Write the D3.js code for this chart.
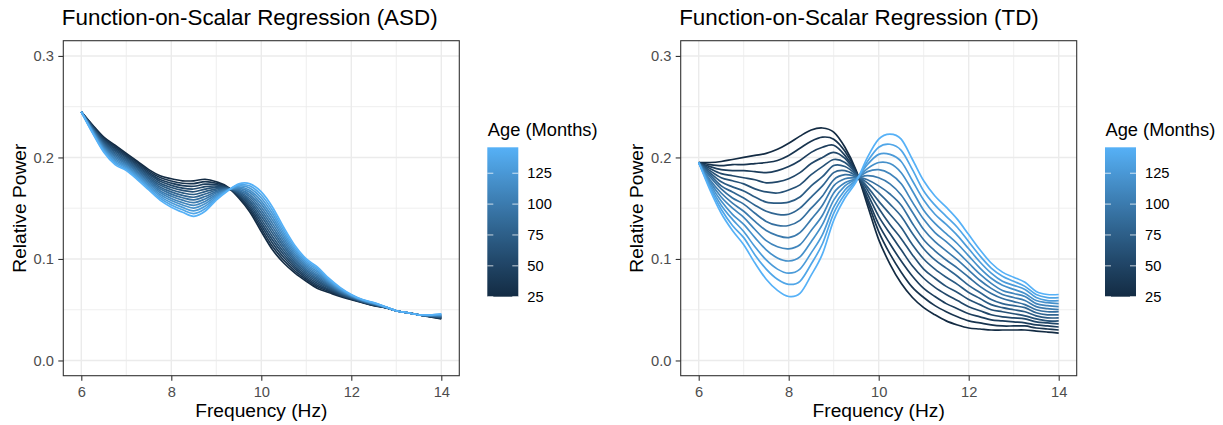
<!DOCTYPE html>
<html><head><meta charset="utf-8">
<script src="https://cdn.jsdelivr.net/npm/d3@7"></script>
<style>
html,body{margin:0;padding:0;background:#fff;}
svg{display:block;font-family:"Liberation Sans",Arial,Helvetica,sans-serif;}
</style></head><body>
<svg id="chart" width="1223" height="425"></svg>
<script>
// ---------- data ----------
const frequencies = [6, 6.25, 6.5, 6.75, 7, 7.25, 7.5, 7.75, 8, 8.25, 8.5, 8.75, 9, 9.25, 9.5, 9.75,
  10, 10.25, 10.5, 10.75, 11, 11.25, 11.5, 11.75, 12, 12.25, 12.5, 12.75, 13, 13.25, 13.5, 13.75, 14];
const ages = [25, 34.3, 43.6, 52.9, 62.2, 71.5, 80.8, 90.2, 99.5, 108.8, 118.1, 127.4, 136.7, 146];
const xTicks = [6, 8, 10, 12, 14];
const xMinorTicks = [7, 9, 11, 13];
const yTicks = [0, 0.1, 0.2, 0.3];
const yMinorTicks = [0.05, 0.15, 0.25];
const legendTicks = [25, 50, 75, 100, 125];
const panelTitles = ["Function-on-Scalar Regression (ASD)", "Function-on-Scalar Regression (TD)"];

// rows = frequencies, columns = ages (ascending)
const asdPower = [
 [.2450,.2450,.2450,.2450,.2450,.2450,.2450,.2450,.2450,.2450,.2450,.2450,.2450,.2450],
 [.2320,.2314,.2308,.2302,.2295,.2289,.2283,.2277,.2271,.2265,.2258,.2252,.2246,.2240],
 [.2200,.2188,.2177,.2165,.2154,.2142,.2131,.2119,.2108,.2096,.2085,.2073,.2062,.2050],
 [.2120,.2105,.2091,.2076,.2062,.2047,.2032,.2018,.2003,.1988,.1974,.1959,.1945,.1930],
 [.2040,.2027,.2014,.2001,.1988,.1975,.1962,.1948,.1935,.1922,.1909,.1896,.1883,.1870],
 [.1960,.1946,.1932,.1918,.1905,.1891,.1877,.1863,.1849,.1835,.1822,.1808,.1794,.1780],
 [.1880,.1865,.1849,.1834,.1818,.1803,.1788,.1772,.1757,.1742,.1726,.1711,.1695,.1680],
 [.1820,.1802,.1783,.1765,.1746,.1728,.1709,.1691,.1672,.1654,.1635,.1617,.1598,.1580],
 [.1790,.1768,.1747,.1725,.1704,.1682,.1661,.1639,.1618,.1596,.1575,.1553,.1532,.1510],
 [.1770,.1746,.1722,.1698,.1675,.1651,.1627,.1603,.1579,.1555,.1532,.1508,.1484,.1460],
 [.1770,.1743,.1716,.1689,.1662,.1635,.1608,.1582,.1555,.1528,.1501,.1474,.1447,.1420],
 [.1785,.1761,.1737,.1712,.1688,.1664,.1640,.1615,.1591,.1567,.1543,.1519,.1494,.1470],
 [.1760,.1746,.1732,.1718,.1705,.1691,.1677,.1663,.1649,.1635,.1622,.1608,.1594,.1580],
 [.1710,.1707,.1704,.1701,.1698,.1695,.1692,.1688,.1685,.1682,.1679,.1676,.1673,.1670],
 [.1600,.1611,.1622,.1632,.1643,.1654,.1665,.1675,.1686,.1697,.1708,.1718,.1729,.1740],
 [.1460,.1482,.1503,.1525,.1546,.1568,.1589,.1611,.1632,.1654,.1675,.1697,.1718,.1740],
 [.1270,.1300,.1330,.1360,.1390,.1420,.1450,.1480,.1510,.1540,.1570,.1600,.1630,.1660],
 [.1090,.1122,.1155,.1187,.1219,.1252,.1284,.1316,.1348,.1381,.1413,.1445,.1478,.1510],
 [.0960,.0987,.1014,.1041,.1068,.1095,.1122,.1148,.1175,.1202,.1229,.1256,.1283,.1310],
 [.0860,.0881,.0902,.0922,.0943,.0964,.0985,.1005,.1026,.1047,.1068,.1088,.1109,.1130],
 [.0780,.0797,.0814,.0831,.0848,.0865,.0882,.0898,.0915,.0932,.0949,.0966,.0983,.1000],
 [.0710,.0726,.0742,.0758,.0775,.0791,.0807,.0823,.0839,.0855,.0872,.0888,.0904,.0920],
 [.0670,.0681,.0692,.0702,.0713,.0724,.0735,.0745,.0756,.0767,.0778,.0788,.0799,.0810],
 [.0630,.0637,.0644,.0651,.0658,.0665,.0672,.0678,.0685,.0692,.0699,.0706,.0713,.0720],
 [.0600,.0604,.0608,.0612,.0615,.0619,.0623,.0627,.0631,.0635,.0638,.0642,.0646,.0650],
 [.0570,.0572,.0575,.0577,.0579,.0582,.0584,.0586,.0588,.0591,.0593,.0595,.0598,.0600],
 [.0540,.0542,.0545,.0547,.0549,.0552,.0554,.0556,.0558,.0561,.0563,.0565,.0568,.0570],
 [.0520,.0521,.0522,.0522,.0523,.0524,.0525,.0525,.0526,.0527,.0528,.0528,.0529,.0530],
 [.0490,.0490,.0490,.0490,.0490,.0490,.0490,.0490,.0490,.0490,.0490,.0490,.0490,.0490],
 [.0470,.0470,.0470,.0470,.0470,.0470,.0470,.0470,.0470,.0470,.0470,.0470,.0470,.0470],
 [.0450,.0450,.0450,.0450,.0450,.0450,.0450,.0450,.0450,.0450,.0450,.0450,.0450,.0450],
 [.0430,.0432,.0433,.0435,.0436,.0438,.0439,.0441,.0442,.0444,.0445,.0447,.0448,.0450],
 [.0410,.0414,.0418,.0422,.0425,.0429,.0433,.0437,.0441,.0445,.0448,.0452,.0456,.0460]
];

const tdPower = [
 [.195,.195,.195,.195,.195,.195,.195,.195,.195,.195,.195,.195,.195,.195],
 [.195,.193,.191,.189,.187,.185,.183,.181,.178,.176,.174,.172,.170,.168],
 [.196,.192,.188,.184,.180,.176,.172,.169,.165,.161,.157,.153,.149,.145],
 [.198,.193,.187,.182,.177,.171,.166,.160,.155,.150,.144,.139,.133,.128],
 [.200,.193,.187,.180,.174,.167,.160,.154,.147,.141,.134,.127,.121,.114],
 [.202,.194,.186,.178,.169,.161,.153,.145,.137,.129,.121,.112,.104,.096],
 [.204,.195,.185,.175,.166,.156,.147,.137,.128,.118,.109,.099,.090,.080],
 [.208,.197,.187,.176,.165,.155,.144,.133,.123,.112,.101,.090,.080,.069],
 [.214,.202,.191,.179,.168,.156,.144,.133,.121,.110,.098,.086,.075,.063],
 [.221,.209,.197,.185,.173,.161,.150,.138,.126,.114,.102,.090,.078,.066],
 [.227,.216,.205,.194,.183,.172,.161,.150,.139,.128,.117,.106,.095,.084],
 [.229,.220,.210,.200,.191,.181,.172,.162,.153,.143,.134,.124,.115,.105],
 [.225,.218,.212,.205,.198,.192,.185,.178,.172,.165,.158,.151,.145,.138],
 [.210,.206,.202,.199,.195,.191,.187,.183,.179,.175,.172,.168,.164,.160],
 [.187,.186,.185,.184,.184,.183,.182,.181,.180,.179,.179,.178,.177,.176],
 [.153,.157,.160,.164,.168,.171,.175,.178,.182,.186,.189,.193,.196,.200],
 [.119,.127,.134,.142,.150,.157,.165,.172,.180,.188,.195,.203,.210,.218],
 [.095,.105,.115,.125,.134,.144,.154,.164,.174,.184,.194,.203,.213,.223],
 [.076,.087,.098,.109,.120,.131,.142,.153,.163,.174,.185,.196,.207,.218],
 [.062,.072,.083,.093,.104,.114,.125,.135,.146,.156,.167,.177,.188,.198],
 [.052,.062,.071,.081,.090,.100,.110,.119,.129,.139,.148,.158,.167,.177],
 [.045,.054,.063,.072,.081,.090,.099,.108,.117,.126,.135,.144,.153,.162],
 [.039,.048,.056,.065,.073,.082,.091,.099,.108,.117,.125,.134,.142,.151],
 [.035,.043,.051,.059,.067,.075,.083,.091,.099,.107,.115,.123,.131,.139],
 [.032,.039,.046,.053,.060,.067,.074,.082,.089,.096,.103,.110,.117,.124],
 [.031,.037,.043,.049,.055,.061,.067,.073,.079,.085,.091,.097,.103,.109],
 [.030,.035,.040,.045,.050,.055,.060,.066,.071,.076,.081,.086,.091,.096],
 [.030,.034,.039,.043,.048,.052,.056,.061,.065,.069,.074,.078,.083,.087],
 [.030,.034,.038,.042,.046,.050,.054,.058,.062,.066,.070,.074,.078,.082],
 [.030,.034,.037,.041,.044,.048,.052,.055,.059,.063,.066,.070,.073,.077],
 [.029,.032,.035,.038,.041,.044,.047,.050,.053,.056,.059,.062,.065,.068],
 [.028,.031,.034,.037,.039,.042,.045,.048,.051,.054,.057,.059,.062,.065],
 [.027,.030,.033,.036,.039,.042,.045,.048,.050,.053,.056,.059,.062,.065]
];

// ---------- drawing ----------
const svg = d3.select("#chart");
const FONT = '"Liberation Sans",Arial,Helvetica,sans-serif';
const PW = 396, PT = 40.7, PB = 375.7;
const ageExtent = d3.extent(ages);
const color = d3.scaleLinear().domain(ageExtent).range(["#132B43", "#56B1F7"]).interpolate(d3.interpolateLab);

const defs = svg.append("defs");
const grad = defs.append("linearGradient").attr("id", "ageGrad")
  .attr("x1", 0).attr("y1", 1).attr("x2", 0).attr("y2", 0);
for (let i = 0; i <= 40; i++) {
  const t = i / 40;
  grad.append("stop").attr("offset", t).attr("stop-color", color(ageExtent[0] + t * (ageExtent[1] - ageExtent[0])));
}

const panels = [
  { title: panelTitles[0], data: asdPower, left: 63.3, legendX: 487.3 },
  { title: panelTitles[1], data: tdPower, left: 680.7, legendX: 1105 }
];

panels.forEach(p => {
  const x = d3.scaleLinear().domain([5.6, 14.4]).range([p.left, p.left + PW]);
  const y = d3.scaleLinear().domain([-0.015, 0.315]).range([PB, PT]);
  const g = svg.append("g");

  // grid
  g.selectAll(".xminor").data(xMinorTicks).join("line")
    .attr("x1", d => x(d)).attr("x2", d => x(d)).attr("y1", PT).attr("y2", PB)
    .attr("stroke", "#EBEBEB").attr("stroke-width", 0.8);
  g.selectAll(".yminor").data(yMinorTicks).join("line")
    .attr("x1", p.left).attr("x2", p.left + PW).attr("y1", d => y(d)).attr("y2", d => y(d))
    .attr("stroke", "#EBEBEB").attr("stroke-width", 0.8);
  g.selectAll(".xmajor").data(xTicks).join("line")
    .attr("x1", d => x(d)).attr("x2", d => x(d)).attr("y1", PT).attr("y2", PB)
    .attr("stroke", "#EBEBEB").attr("stroke-width", 1.4);
  g.selectAll(".ymajor").data(yTicks).join("line")
    .attr("x1", p.left).attr("x2", p.left + PW).attr("y1", d => y(d)).attr("y2", d => y(d))
    .attr("stroke", "#EBEBEB").attr("stroke-width", 1.4);

  // curves
  const series = ages.map((a, j) => ({ age: a, pts: frequencies.map((f, i) => [f, p.data[i][j]]) }));
  const line = d3.line().x(d => x(d[0])).y(d => y(d[1])).curve(d3.curveCatmullRom.alpha(0));
  g.selectAll(".curve").data(series).join("path")
    .attr("d", d => line(d.pts)).attr("fill", "none")
    .attr("stroke", d => color(d.age)).attr("stroke-width", 1.7)
    .attr("stroke-linejoin", "round").attr("stroke-linecap", "butt");

  // border
  g.append("rect").attr("x", p.left).attr("y", PT).attr("width", PW).attr("height", PB - PT)
    .attr("fill", "none").attr("stroke", "#333333").attr("stroke-width", 1.1);

  // axes
  const xa = svg.append("g").attr("transform", `translate(0,${PB})`)
    .call(d3.axisBottom(x).tickValues(xTicks).tickSize(5).tickPadding(5.5).tickFormat(d3.format("d")));
  xa.attr("font-family", FONT).attr("font-size", 14.7);
  xa.select(".domain").remove();
  xa.selectAll(".tick line").attr("stroke", "#333333").attr("stroke-width", 1.1);
  xa.selectAll(".tick text").attr("fill", "#4D4D4D");

  const ya = svg.append("g").attr("transform", `translate(${p.left},0)`)
    .call(d3.axisLeft(y).tickValues(yTicks).tickSize(5).tickPadding(4.3).tickFormat(d3.format(".1f")));
  ya.attr("font-family", FONT).attr("font-size", 14.7);
  ya.select(".domain").remove();
  ya.selectAll(".tick line").attr("stroke", "#333333").attr("stroke-width", 1.1);
  ya.selectAll(".tick text").attr("fill", "#4D4D4D");

  // titles
  svg.append("text").attr("x", p.left - 1.5).attr("y", 25).attr("font-size", 22.4).attr("fill", "#000")
    .text(p.title);
  svg.append("text").attr("x", p.left + PW / 2).attr("y", 417).attr("text-anchor", "middle")
    .attr("font-size", 19.2).attr("fill", "#000").text("Frequency (Hz)");
  svg.append("text").attr("transform", `translate(${p.left - 37.3},${(PT + PB) / 2}) rotate(-90)`)
    .attr("text-anchor", "middle").attr("font-size", 19.2).attr("fill", "#000").text("Relative Power");

  // legend
  const lg = svg.append("g");
  const barTop = 147.3, barBottom = 296.7, barW = 31;
  const ly = d3.scaleLinear().domain(ageExtent).range([barBottom, barTop]);
  lg.append("text").attr("x", p.legendX + 0.5).attr("y", 136).attr("font-size", 18.3).attr("fill", "#000")
    .text("Age (Months)");
  lg.append("rect").attr("x", p.legendX).attr("y", barTop).attr("width", barW).attr("height", barBottom - barTop)
    .attr("fill", "url(#ageGrad)");
  legendTicks.forEach(v => {
    const yy = ly(v);
    lg.append("line").attr("x1", p.legendX).attr("x2", p.legendX + 6).attr("y1", yy).attr("y2", yy)
      .attr("stroke", "#FFFFFF").attr("stroke-opacity", 0.75).attr("stroke-width", 1);
    lg.append("line").attr("x1", p.legendX + barW - 6).attr("x2", p.legendX + barW).attr("y1", yy).attr("y2", yy)
      .attr("stroke", "#FFFFFF").attr("stroke-opacity", 0.75).attr("stroke-width", 1);
    lg.append("text").attr("x", p.legendX + barW + 9).attr("y", yy).attr("dy", "0.35em")
      .attr("font-size", 14.7).attr("fill", "#000").text(v);
  });
});
svg.selectAll("text").attr("font-family", FONT);
</script>
</body></html>
